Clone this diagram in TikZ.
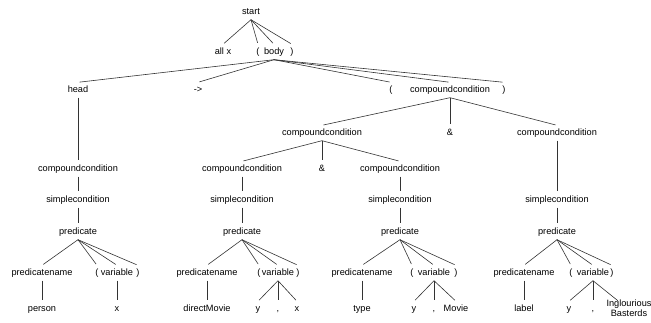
\documentclass[tikz,border=0pt]{standalone}
\usepackage{fontspec}
\setmainfont{Liberation Sans}

\tikzset{
  tok/.style={inner xsep=1pt, inner ysep=3pt, text height=7pt, text depth=2pt,
    font=\fontsize{9.2}{10}\selectfont},
  tokml/.style={inner xsep=1pt, inner ysep=3pt, align=center,
    font=\fontsize{9.2}{9.6}\selectfont},
  br/.style={draw=black!80, line width=0.6pt, shorten >=1.5pt},
}

\begin{document}
\begin{tikzpicture}[x=1pt, y=1pt]
  \useasboundingbox (0,0) rectangle (651,-322);

  % top
  \node[tok] (st) at (251,-12) {start};
  \node[tok] (allx) at (223,-52) {all x};
  \node[tok] (lpA) at (258,-52) {(};
  \node[tok] (body) at (274,-52) {body};
  \node[tok] (rpA) at (292,-52) {)};
  \foreach \c in {allx,lpA,body,rpA}
    \draw[br] (st.south) -- (\c.north);

  % body
  \node[tok] (head) at (78,-90) {head};
  \node[tok] (arrow) at (198,-90) {->};
  \node[tok] (lpB) at (391,-90) {(};
  \node[tok] (ccA) at (450,-90) {compoundcondition};
  \node[tok] (rpB) at (504,-90) {)};
  \foreach \c in {head,arrow,lpB,ccA,rpB}
    \draw[br] (body.south) -- (\c.north);

  % conjunction
  \node[tok] (ccL) at (322,-133) {compoundcondition};
  \node[tok] (ampA) at (450,-133) {\&};
  \node[tok] (ccR) at (557,-133) {compoundcondition};
  \foreach \c in {ccL,ampA,ccR}
    \draw[br] (ccA.south) -- (\c.north);

  \node[tok] (ccH) at (78,-169) {compoundcondition};
  \node[tok] (ccLL) at (242,-169) {compoundcondition};
  \node[tok] (ampB) at (322,-169) {\&};
  \node[tok] (ccLR) at (400,-169) {compoundcondition};
  \draw[br] (head.south) -- (ccH.north);
  \foreach \c in {ccLL,ampB,ccLR}
    \draw[br] (ccL.south) -- (\c.north);

  % simplecondition / predicate
  \node[tok] (sc1) at (78,-200) {simplecondition};
  \node[tok] (sc2) at (242,-200) {simplecondition};
  \node[tok] (sc3) at (400,-200) {simplecondition};
  \node[tok] (sc4) at (557,-200) {simplecondition};
  \node[tok] (pr1) at (78,-232) {predicate};
  \node[tok] (pr2) at (242,-232) {predicate};
  \node[tok] (pr3) at (400,-232) {predicate};
  \node[tok] (pr4) at (557,-232) {predicate};
  \draw[br] (ccH.south) -- (sc1.north);
  \draw[br] (ccLL.south) -- (sc2.north);
  \draw[br] (ccLR.south) -- (sc3.north);
  \draw[br] (ccR.south) -- (sc4.north);
  \foreach \i in {1,...,4}
    \draw[br] (sc\i.south) -- (pr\i.north);

  % predicate parts
  \foreach \i/\a/\b/\c/\d in {1/42/97/117/138, 2/207/259/278/298,
                              3/362/412/434/456, 4/524/571/593/612} {
    \node[tok] (pn\i) at (\a,-273) {predicatename};
    \node[tok] (lp\i) at (\b,-273) {(};
    \node[tok] (var\i) at (\c,-273) {variable};
    \node[tok] (rp\i) at (\d,-273) {)};
    \foreach \c in {pn,lp,var,rp}
      \draw[br] (pr\i.south) -- (\c\i.north);
  }

  % leaves
  \node[tok] (person) at (42,-309) {person};
  \node[tok] (xA) at (117,-309) {x};
  \node[tok] (dm) at (207,-309) {directMovie};
  \node[tok] (yB) at (258,-309) {y};
  \node[tok] (cmB) at (278,-309) {,};
  \node[tok] (xB) at (297,-309) {x};
  \node[tok] (type) at (362,-309) {type};
  \node[tok] (yC) at (414,-309) {y};
  \node[tok] (cmC) at (434,-309) {,};
  \node[tok] (movie) at (456,-309) {Movie};
  \node[tok] (label) at (524,-309) {label};
  \node[tok] (yD) at (569,-309) {y};
  \node[tok] (cmD) at (593,-309) {,};
  \node[tokml] (ib) at (629,-308) {Inglourious\\Basterds};

  \draw[br] (pn1.south) -- (person.north);
  \draw[br] (var1.south) -- (xA.north);
  \draw[br] (pn2.south) -- (dm.north);
  \foreach \c in {yB,cmB,xB}
    \draw[br] (var2.south) -- (\c.north);
  \draw[br] (pn3.south) -- (type.north);
  \foreach \c in {yC,cmC,movie}
    \draw[br] (var3.south) -- (\c.north);
  \draw[br] (pn4.south) -- (label.north);
  \foreach \c in {yD,cmD}
    \draw[br] (var4.south) -- (\c.north);
  \draw[br] (var4.south) -- ([shift={(-10pt,-5pt)}]ib.north);
\end{tikzpicture}
\end{document}
